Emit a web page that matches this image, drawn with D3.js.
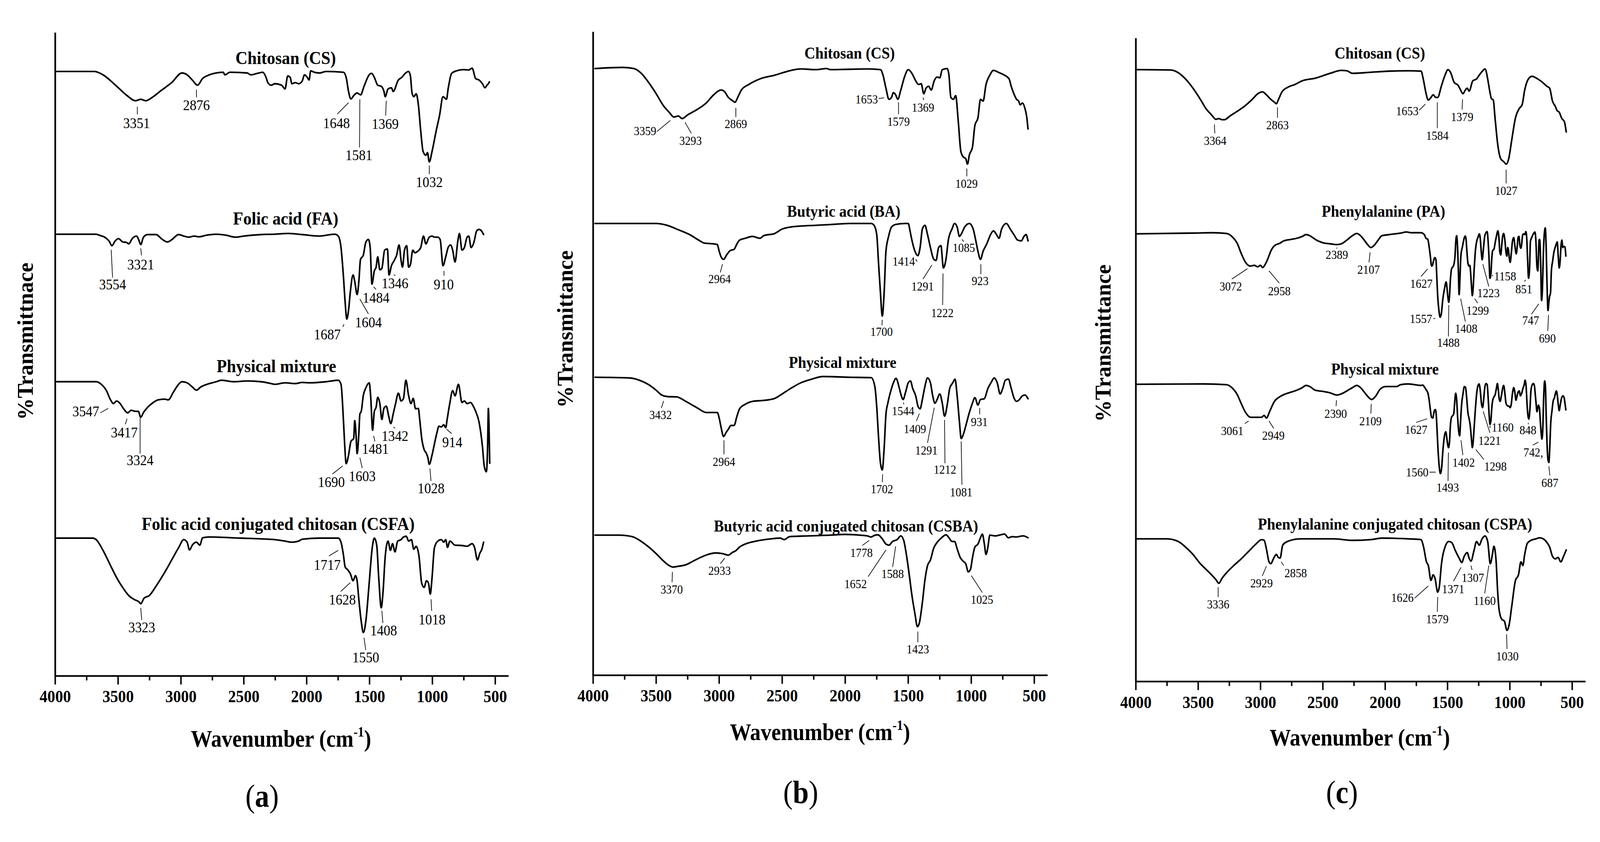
<!DOCTYPE html>
<html><head><meta charset="utf-8">
<script src="https://cdn.jsdelivr.net/npm/d3@7"></script>
<style>html,body{margin:0;padding:0;width:100%;height:100%;overflow:hidden;background:#fff}svg{display:block;width:100vw;height:100vh}</style>
</head><body>
<svg id="chart" viewBox="0 0 4316 2156" preserveAspectRatio="xMidYMid meet"></svg>
<script>
// ---------- tick values ----------
const majorTicks = [4000,3500,3000,2500,2000,1500,1000,500];
const minorTicks = [3750,3250,2750,2250,1750,1250,750];
const panelLetters = ["a","b","c"];
const yLabels = ["%Transmittnace","%Transmittance","%Transmittance"];

// ---------- panel (a) ----------
const aTitles = [["Chitosan (CS)",2167,166.8],["Folic acid (FA)",2167,123.5],["Physical mixture",2241,83.6],["Folic acid conjugated chitosan (CSFA)",2227,41.1]];
const aCS = [[3989,163.1],[3689,163.1],[3620,162.2],[3511,159.1],[3429,156.6],[3361,155.2],[3320,155.6],[3279,155.2],[3238,155.9],[3156,158.0],[3074,160.1],[2992,162.7],[2951,162.2],[2910,160.8],[2869,159.4],[2828,161.2],[2774,162.2],[2664,162.9],[2651,162.2],[2610,162.9],[2473,162.7],[2446,162.2],[2391,162.6],[2350,162.9],[2323,161.5],[2309,160.1],[2282,159.4],[2254,159.8],[2200,159.4],[2172,158.4],[2151,161.9],[2131,161.5],[2118,159.8],[2090,160.1],[2063,159.8],[2036,160.5],[2017,162.2],[1995,161.5],[1981,160.8],[1968,163.3],[1940,162.9],[1899,162.7],[1845,163.1],[1708,162.9],[1686,161.5],[1667,157.7],[1648,155.7],[1626,156.6],[1599,157.3],[1571,156.8],[1544,159.1],[1503,162.2],[1484,162.6],[1462,161.5],[1435,159.4],[1407,159.1],[1386,157.8],[1375,156.3],[1353,158.4],[1326,158.7],[1312,157.7],[1271,160.8],[1244,161.5],[1216,162.6],[1189,163.1],[1175,161.9],[1162,157.3],[1148,156.3],[1129,157.1],[1112,154.2],[1093,147.1],[1074,141.5],[1052,140.5],[1039,141.2],[1025,138.7],[1003,141.5],[970,147.1],[943,151.3],[916,156.3],[888,155.6],[875,158.4],[847,162.6],[806,163.3],[752,163.6],[711,163.5],[684,164.0],[656,161.2],[629,160.8],[602,159.8],[582,158.7],[566,159.4],[555,159.8],[547,160.3]];
const aFA = [[3989,119.2],[3675,119.2],[3648,118.9],[3607,118.4],[3571,117.3],[3549,116.1],[3525,117.3],[3497,118.0],[3462,117.1],[3435,117.0],[3415,116.6],[3388,118.0],[3353,118.7],[3336,117.7],[3320,116.4],[3298,118.4],[3265,119.1],[3197,119.1],[3156,118.0],[3107,117.1],[3074,117.7],[3019,119.1],[2978,118.7],[2937,118.4],[2896,118.7],[2855,118.5],[2801,118.9],[2719,119.2],[2637,118.9],[2569,118.4],[2500,118.7],[2364,119.1],[2254,119.2],[2145,119.4],[2036,119.1],[1899,118.7],[1776,119.2],[1749,118.7],[1727,115.6],[1708,107.9],[1694,100.8],[1681,96.3],[1667,98.7],[1653,103.6],[1631,108.2],[1618,106.5],[1599,102.9],[1585,106.5],[1572,112.4],[1550,113.5],[1530,117.0],[1509,117.8],[1495,115.6],[1481,105.7],[1462,109.3],[1448,110.3],[1435,113.1],[1418,109.6],[1402,110.0],[1380,114.9],[1358,115.2],[1345,108.2],[1326,110.7],[1304,112.1],[1285,113.5],[1265,116.3],[1249,112.1],[1238,110.3],[1222,114.9],[1205,116.1],[1189,110.3],[1175,111.0],[1156,114.9],[1140,114.2],[1121,114.5],[1093,115.6],[1071,118.7],[1052,116.6],[1025,118.4],[1003,118.7],[984,118.4],[957,118.4],[938,117.7],[916,110.7],[894,113.1],[875,115.6],[856,116.3],[839,114.9],[820,111.7],[798,117.3],[785,119.4],[765,114.9],[746,115.6],[724,118.4],[711,118.7],[692,115.6],[670,117.0],[648,120.1],[629,120.5],[610,120.1],[593,119.1]];
const aPM = [[3989,79.4],[3675,79.4],[3634,78.7],[3593,77.0],[3560,74.5],[3538,73.5],[3511,74.2],[3484,73.5],[3456,72.1],[3424,71.0],[3396,71.7],[3361,71.4],[3339,71.4],[3320,69.8],[3298,71.1],[3265,72.5],[3224,73.7],[3183,74.5],[3129,74.7],[3101,74.5],[3060,76.6],[3019,78.7],[2992,79.4],[2951,79.1],[2910,78.0],[2877,77.1],[2842,78.0],[2801,78.6],[2719,79.4],[2678,79.8],[2582,79.4],[2473,79.6],[2364,79.4],[2282,78.9],[2254,78.7],[2172,79.1],[2090,78.9],[2036,79.2],[1981,79.1],[1845,79.4],[1749,79.8],[1727,78.7],[1708,69.2],[1697,61.9],[1686,57.3],[1667,59.6],[1648,63.3],[1626,64.1],[1618,68.9],[1607,64.8],[1599,60.0],[1585,65.5],[1577,70.7],[1566,71.4],[1550,75.6],[1530,77.7],[1503,79.1],[1490,74.9],[1476,66.3],[1462,71.4],[1448,72.5],[1435,75.2],[1418,73.5],[1402,69.2],[1386,72.2],[1367,72.8],[1347,70.0],[1331,68.1],[1312,70.7],[1293,73.5],[1271,76.3],[1249,74.2],[1230,74.9],[1211,79.8],[1189,75.6],[1170,73.5],[1153,74.9],[1134,72.1],[1112,72.2],[1101,69.2],[1085,64.1],[1066,61.1],[1047,60.0],[1036,58.9],[1025,57.1],[1003,59.6],[984,62.6],[965,65.5],[948,67.4],[929,67.2],[910,67.8],[894,67.0],[883,69.2],[861,73.7],[839,77.0],[820,75.6],[793,78.7],[765,73.8],[746,74.2],[724,73.5],[697,73.8],[675,72.8],[656,71.4],[629,68.5],[602,61.9],[588,56.7],[571,55.1],[561,61.9],[555,72.2],[550,67.8],[544,57.4]];
const aCSFA = [[3989,37.2],[3702,37.2],[3675,36.8],[3620,33.9],[3566,30.2],[3511,26.5],[3456,23.5],[3415,21.7],[3369,20.6],[3334,20.0],[3320,19.5],[3293,21.0],[3252,21.7],[3197,24.3],[3129,28.0],[3074,31.3],[3019,34.6],[2978,36.8],[2951,36.1],[2932,34.0],[2910,35.3],[2877,36.1],[2850,35.3],[2828,37.3],[2774,37.5],[2528,37.2],[2364,37.0],[2254,36.8],[2172,36.4],[2118,36.1],[2063,36.4],[2036,36.9],[1899,37.2],[1749,37.2],[1727,36.1],[1708,32.7],[1694,29.4],[1675,28.7],[1653,27.6],[1631,25.7],[1612,27.1],[1599,25.7],[1585,20.6],[1566,14.7],[1549,11.7],[1530,14.7],[1503,25.0],[1481,33.9],[1462,37.2],[1443,35.3],[1427,26.5],[1407,18.4],[1394,22.1],[1375,32.4],[1353,36.4],[1334,33.9],[1317,35.7],[1298,33.5],[1276,36.4],[1249,36.8],[1230,37.5],[1208,37.7],[1189,36.4],[1167,36.8],[1148,34.2],[1129,35.0],[1107,32.4],[1085,25.0],[1066,23.9],[1047,25.7],[1031,25.0],[1017,22.1],[1003,26.5],[984,34.6],[957,36.4],[929,36.8],[910,36.1],[894,36.8],[880,34.7],[861,36.4],[820,35.3],[765,35.2],[724,35.0],[684,35.7],[664,34.6],[642,31.3],[623,33.1],[607,34.2],[593,36.1]];
const aCSLab = [["3351",3353,149.2,3347,153.6,3347,151.5],["2876",2877,154.0,2877,158.2,2877,156.1],["1648",1763,149.2,1667,154.7,1757,151.6],["1581",1585,140.5,1577,155.6,1580,142.6],["1369",1375,148.9,1367,155.2,1372,151.2],["1032",1025,133.2,1025,137.7,1025,135.4]];
const aFALab = [["3554",3544,105.6,3555,115.0,3544,107.5],["3321",3320,111.0,3320,115.4,3314,113.5],["1687",1836,92.1,1703,94.9,1713,94.2],["1604",1509,95.4,1577,101.7,1509,97.7],["1484",1448,102.1,1468,105.0,1448,104.3],["1346",1298,106.0,1309,108.2,1293,108.1],["910",910,105.6,908,109.3,908,108.0]];
const aPMLab = [["3547",3757,71.4,3642,71.0,3579,72.2],["3417",3451,65.7,3429,69.4,3443,67.9],["3324",3325,58.2,3325,69.6,3325,60.0],["1690",1804,52.3,1713,56.7,1795,54.5],["1603",1558,53.9,1577,58.9,1558,56.1],["1481",1454,61.3,1468,64.8,1457,63.3],["1342",1298,64.8,1309,67.2,1298,66.8],["1028",1011,50.6,1020,56.0,1011,52.6],["914",842,63.1,888,66.6,847,65.4]];
const aCSFALab = [["3323",3312,13.1,3320,18.4,3312,15.1],["1717",1836,30.0,1823,32.4,1749,33.9],["1628",1716,20.6,1730,22.8,1653,25.2],["1550",1530,5.0,1544,10.3,1530,7.0],["1408",1388,12.3,1402,17.6,1394,14.3],["1018",1003,15.2,1011,20.7,1006,17.6]];

// ---------- panel (b) ----------
const bTitles = [["Chitosan (CS)",1965,167.9],["Butyric acid (BA)",2012,125.2],["Physical mixture",2021,84.4],["Butyric acid conjugated chitosan (CSBA)",1994,40.3]];
const bCS = [[3985,163.7],[3765,164.0],[3677,163.7],[3618,162.4],[3559,159.9],[3500,156.9],[3441,153.6],[3397,151.9],[3359,150.6],[3324,150.9],[3294,150.2],[3250,151.2],[3177,152.6],[3103,154.4],[3044,156.6],[2985,157.9],[2956,157.4],[2927,155.9],[2897,155.1],[2874,154.6],[2853,155.9],[2824,157.9],[2765,159.4],[2677,160.9],[2559,161.9],[2441,163.1],[2353,163.6],[2235,163.4],[2147,163.7],[2118,163.4],[1971,163.5],[1824,163.6],[1721,163.4],[1700,161.9],[1677,158.4],[1653,155.4],[1633,155.9],[1618,157.2],[1600,156.6],[1583,155.4],[1559,157.9],[1530,161.4],[1500,163.4],[1471,162.4],[1441,160.4],[1418,159.4],[1397,159.6],[1377,156.9],[1359,158.4],[1338,158.9],[1318,157.9],[1294,160.4],[1271,161.4],[1250,161.2],[1230,163.4],[1191,163.7],[1177,161.9],[1162,155.9],[1141,155.4],[1124,156.4],[1103,149.4],[1083,141.4],[1065,139.9],[1044,139.4],[1030,137.9],[1015,140.4],[991,142.4],[971,148.4],[947,150.4],[927,155.4],[906,154.9],[883,159.4],[853,161.9],[824,163.2],[780,162.6],[736,161.9],[700,160.9],[683,158.9],[662,156.9],[641,155.4],[624,154.9],[612,153.9],[594,154.4],[574,152.9],[559,150.4],[550,147.4]];
const bBA = [[3985,121.9],[3500,121.9],[3412,121.4],[3324,120.2],[3235,118.9],[3162,117.4],[3118,116.6],[3044,116.4],[3015,116.2],[3000,114.4],[2985,112.9],[2965,112.2],[2941,113.4],[2912,114.6],[2882,114.9],[2859,116.4],[2838,117.4],[2794,117.9],[2735,118.4],[2677,117.9],[2647,118.6],[2559,119.2],[2500,120.4],[2441,120.9],[2353,121.2],[2235,121.4],[2118,121.6],[1971,121.9],[1794,121.9],[1771,121.4],[1750,118.9],[1736,111.4],[1721,103.4],[1706,96.9],[1691,103.4],[1677,114.4],[1656,118.4],[1633,120.9],[1603,121.6],[1530,121.9],[1500,121.9],[1486,119.9],[1471,117.4],[1447,114.4],[1424,113.2],[1406,115.4],[1388,120.4],[1368,121.4],[1347,118.9],[1324,115.4],[1300,112.4],[1280,111.9],[1259,115.4],[1241,115.9],[1221,109.9],[1200,112.4],[1182,117.4],[1153,120.4],[1132,121.9],[1112,120.9],[1094,118.4],[1074,119.4],[1053,120.9],[1015,121.9],[985,120.4],[965,117.4],[947,114.4],[927,112.2],[906,114.4],[877,116.4],[847,118.9],[824,119.9],[800,118.9],[780,117.9],[759,120.4],[721,121.9],[691,120.4],[662,118.9],[632,117.4],[603,117.2],[582,118.4],[565,118.9],[550,117.2]];
const bPM = [[3985,80.4],[3706,80.2],[3618,79.4],[3559,78.4],[3500,76.9],[3456,75.6],[3412,75.2],[3338,75.1],[3265,73.9],[3177,72.2],[3103,70.9],[3015,70.9],[3000,69.4],[2985,66.9],[2965,64.4],[2947,65.4],[2927,66.4],[2906,67.4],[2882,67.4],[2859,69.9],[2838,71.9],[2794,73.1],[2735,73.9],[2633,74.2],[2559,74.7],[2500,75.9],[2441,77.2],[2353,78.9],[2265,79.9],[2177,80.6],[1971,80.4],[1794,80.3],[1765,77.9],[1750,72.4],[1736,64.4],[1721,57.4],[1706,55.4],[1691,61.4],[1677,70.4],[1662,73.4],[1641,76.4],[1618,78.9],[1597,80.1],[1574,77.9],[1559,75.9],[1541,74.4],[1521,76.4],[1500,78.9],[1482,79.4],[1465,77.4],[1441,75.4],[1421,72.4],[1406,71.9],[1388,74.4],[1368,77.9],[1347,80.2],[1324,78.9],[1306,75.4],[1288,73.4],[1271,74.4],[1250,75.9],[1230,73.4],[1212,69.9],[1191,72.9],[1171,77.4],[1147,78.9],[1129,79.9],[1112,75.4],[1094,68.4],[1080,63.9],[1059,65.4],[1035,68.4],[1015,70.9],[991,73.4],[971,74.9],[947,72.9],[927,74.4],[897,74.6],[868,77.4],[844,78.9],[818,80.2],[794,78.9],[771,75.9],[750,77.4],[730,79.6],[706,79.9],[683,77.4],[662,74.9],[641,73.9],[618,74.4],[594,75.4],[574,75.6],[550,74.6]];
const bCSBA = [[3985,37.8],[3794,37.8],[3691,37.4],[3618,36.1],[3559,34.6],[3500,32.8],[3441,30.8],[3397,29.6],[3368,29.2],[3324,29.4],[3265,29.8],[3206,30.8],[3147,31.8],[3088,32.6],[3030,33.0],[2971,32.8],[2927,32.4],[2897,33.1],[2868,33.6],[2838,34.6],[2794,35.4],[2706,36.2],[2588,36.8],[2515,37.0],[2485,36.6],[2441,37.4],[2294,37.6],[2118,37.8],[2000,38.0],[1883,37.8],[1824,37.6],[1794,37.3],[1771,37.7],[1741,37.9],[1706,36.8],[1677,35.4],[1653,35.1],[1624,36.1],[1588,36.6],[1559,37.6],[1536,36.4],[1515,32.6],[1494,27.6],[1471,21.6],[1447,16.6],[1427,13.1],[1412,14.1],[1388,19.6],[1368,25.6],[1347,29.6],[1324,31.1],[1300,34.1],[1265,36.1],[1236,37.1],[1200,37.9],[1177,37.1],[1153,36.1],[1132,36.1],[1112,34.1],[1088,31.8],[1065,30.8],[1044,30.1],[1024,27.9],[1006,28.6],[991,31.6],[971,34.6],[947,35.4],[927,37.1],[912,38.1],[897,35.6],[883,32.6],[868,34.6],[853,37.8],[809,37.6],[765,37.9],[736,38.1],[706,37.1],[677,37.4],[647,37.3],[588,37.6],[550,37.1]];
const bCSLab = [["3359",3588,146.9,3494,146.7,3388,149.7],["3293",3227,144.2,3271,149.2,3221,146.2],["2869",2868,148.7,2868,153.1,2868,150.6],["1653",1830,155.4,1735,155.6,1691,155.8],["1579",1577,149.4,1577,154.6,1577,151.4],["1369",1383,153.2,1383,155.9,1377,155.2],["1029",1038,132.6,1035,136.7,1035,134.6]];
const bBALab = [["2964",2997,106.9,2974,110.9,2991,108.7],["1700",1712,92.7,1706,95.9,1709,94.4],["1414",1536,111.7,1441,112.3,1430,111.6],["1291",1386,104.9,1312,110.7,1383,106.9],["1222",1230,97.7,1224,108.4,1227,99.9],["1085",1059,115.3,1074,117.6,1059,117.0],["923",930,106.4,924,110.9,924,108.2]];
const bPMLab = [["3432",3465,70.2,3441,74.0,3459,72.1],["2964",2962,57.6,2962,63.4,2962,59.6],["1702",1709,50.2,1703,54.2,1706,52.1],["1544",1541,71.3,1538,73.6,1535,73.1],["1409",1447,66.5,1412,70.6,1435,68.6],["1291",1356,60.7,1294,72.2,1347,62.7],["1212",1209,55.5,1212,68.9,1209,57.2],["1081",1080,49.4,1080,63.1,1074,51.4],["931",936,68.4,933,72.1,933,70.4]];
const bCSBALab = [["3370",3377,23.1,3371,27.9,3374,25.1],["2933",2997,28.2,2956,31.6,2991,30.1],["1778",1871,33.1,1809,36.4,1865,35.0],["1652",1918,24.6,1677,33.8,1818,26.6],["1588",1624,27.4,1600,34.8,1624,29.2],["1423",1424,7.0,1424,11.8,1424,8.9],["1025",915,20.4,1000,26.9,912,22.3]];

// ---------- panel (c) ----------
const cTitles = [["Chitosan (CS)",2043,169.6],["Phenylalanine (PA)",2014,126.9],["Physical mixture",2002,84.3],["Phenylalanine conjugated chitosan (CSPA)",1921,42.5]];
const cCS = [[3994,165.1],[3720,165.0],[3661,164.3],[3602,162.6],[3542,160.1],[3483,157.1],[3438,154.6],[3393,152.9],[3358,151.7],[3334,151.9],[3310,151.6],[3289,151.6],[3245,152.6],[3185,153.9],[3126,155.3],[3066,157.1],[3022,158.6],[2983,159.1],[2953,158.3],[2918,157.1],[2888,156.3],[2873,155.9],[2858,156.9],[2828,159.1],[2784,160.3],[2724,161.1],[2665,162.1],[2561,162.8],[2442,164.1],[2353,164.9],[2308,164.8],[2263,164.1],[2115,164.4],[1966,164.7],[1817,164.8],[1713,164.7],[1692,162.1],[1675,159.1],[1654,156.9],[1633,157.6],[1615,158.3],[1594,157.6],[1579,157.6],[1550,160.6],[1520,163.6],[1496,165.1],[1475,164.3],[1446,161.6],[1416,160.9],[1395,159.6],[1377,158.6],[1357,159.6],[1342,160.1],[1327,159.3],[1297,162.1],[1267,162.6],[1246,163.6],[1223,164.6],[1199,165.3],[1178,162.6],[1163,159.6],[1148,157.3],[1133,156.9],[1119,152.1],[1098,145.1],[1074,141.1],[1050,140.3],[1029,139.6],[1009,141.1],[985,146.1],[955,152.1],[925,154.6],[902,155.6],[881,159.6],[851,162.6],[821,163.3],[792,162.9],[747,161.9],[702,160.6],[681,160.1],[658,156.6],[634,155.1],[622,154.1],[604,153.6],[583,151.9],[563,151.1],[548,148.3]];
const cPA = [[3994,120.8],[3542,121.0],[3393,121.1],[3274,120.9],[3230,120.1],[3185,118.1],[3156,115.6],[3120,113.1],[3081,112.1],[3051,112.3],[3022,111.9],[3001,112.3],[2983,111.7],[2962,112.6],[2941,114.1],[2918,116.1],[2888,117.6],[2843,118.3],[2814,118.9],[2754,119.3],[2709,119.6],[2665,120.1],[2635,120.6],[2605,120.3],[2561,119.3],[2501,118.4],[2442,118.1],[2388,117.9],[2353,118.1],[2308,119.1],[2263,120.3],[2228,120.9],[2198,120.3],[2168,119.1],[2139,117.8],[2115,117.1],[2091,117.6],[2061,118.9],[2026,120.3],[1966,120.6],[1862,121.1],[1832,121.3],[1788,121.1],[1712,121.1],[1693,120.8],[1683,120.4],[1673,119.6],[1658,119.3],[1648,117.4],[1638,114.8],[1628,112.1],[1621,112.3],[1613,113.4],[1601,114.4],[1593,113.8],[1586,109.1],[1579,104.1],[1569,100.1],[1559,98.3],[1549,99.4],[1539,102.8],[1524,106.1],[1511,107.8],[1504,106.1],[1496,103.4],[1490,102.3],[1484,104.1],[1477,108.4],[1467,111.4],[1457,111.9],[1450,112.4],[1440,114.8],[1433,119.1],[1427,120.3],[1420,117.4],[1413,110.8],[1407,104.4],[1400,109.1],[1393,114.8],[1380,117.4],[1365,119.8],[1358,120.2],[1351,119.1],[1344,115.8],[1336,112.8],[1328,112.1],[1321,112.3],[1316,110.8],[1309,107.4],[1301,104.1],[1294,106.4],[1286,111.4],[1276,116.4],[1266,118.8],[1256,119.8],[1245,120.8],[1237,119.4],[1229,115.8],[1222,113.8],[1212,116.8],[1202,120.1],[1192,121.1],[1182,121.4],[1175,119.1],[1167,114.1],[1160,108.8],[1152,110.1],[1145,114.1],[1138,116.3],[1128,116.6],[1118,118.4],[1108,120.1],[1096,121.6],[1088,119.8],[1080,115.8],[1073,115.1],[1066,117.4],[1058,120.1],[1050,120.9],[1040,119.1],[1031,115.8],[1024,114.8],[1017,117.1],[1011,116.4],[1004,114.1],[997,113.1],[989,115.4],[979,118.8],[969,119.8],[959,117.4],[949,115.4],[941,117.4],[934,119.8],[927,120.1],[920,117.8],[912,116.9],[905,118.1],[898,120.4],[890,120.8],[880,120.6],[872,121.4],[865,119.8],[858,114.1],[850,108.8],[842,111.4],[835,118.8],[825,119.8],[811,120.8],[799,121.3],[791,118.8],[783,112.1],[776,110.8],[771,114.1],[766,119.1],[761,119.3],[753,113.1],[746,102.8],[739,105.8],[731,115.8],[723,121.1],[716,122.4],[709,117.4],[702,107.4],[694,100.1],[687,102.4],[682,103.8],[674,104.8],[667,110.8],[657,113.4],[647,115.8],[637,117.1],[627,118.1],[620,118.6],[612,114.8],[604,111.6],[597,113.4],[590,117.4],[583,119.1],[575,117.1],[568,117.4],[558,117.3],[551,114.8]];
const cPM = [[3994,80.2],[3453,80.3],[3274,80.1],[3230,79.3],[3185,77.3],[3156,75.1],[3120,72.6],[3081,71.3],[3037,71.3],[2992,71.3],[2971,71.8],[2953,71.1],[2924,73.1],[2888,75.6],[2843,76.9],[2799,77.6],[2754,78.1],[2709,78.6],[2665,79.3],[2635,79.9],[2605,79.6],[2561,78.6],[2501,78.3],[2442,77.9],[2388,77.3],[2353,77.6],[2308,78.4],[2263,79.3],[2228,79.9],[2198,79.3],[2168,78.1],[2139,76.9],[2109,76.1],[2079,76.9],[2040,78.9],[1996,79.6],[1966,79.6],[1907,79.6],[1877,80.1],[1817,80.3],[1712,79.9],[1698,80.0],[1688,79.6],[1673,78.8],[1658,77.9],[1648,76.1],[1638,73.4],[1628,71.3],[1618,71.1],[1608,72.8],[1598,73.4],[1591,72.1],[1584,67.8],[1576,62.4],[1566,57.8],[1557,56.1],[1547,57.8],[1537,62.4],[1524,66.4],[1514,67.4],[1506,65.8],[1498,63.8],[1492,63.1],[1484,64.8],[1477,69.1],[1467,71.4],[1457,71.8],[1450,72.3],[1443,75.1],[1435,77.8],[1427,76.1],[1419,71.4],[1410,67.4],[1403,66.3],[1395,70.4],[1387,74.8],[1377,77.4],[1365,79.6],[1356,79.4],[1346,76.4],[1336,72.4],[1328,71.1],[1318,69.1],[1308,65.4],[1301,63.1],[1294,64.8],[1286,68.8],[1276,73.8],[1266,77.8],[1256,79.8],[1247,80.3],[1237,78.4],[1227,74.8],[1219,73.9],[1212,75.4],[1202,79.1],[1192,80.4],[1182,80.1],[1175,77.1],[1167,72.4],[1159,69.4],[1152,70.4],[1145,73.8],[1138,75.8],[1128,76.8],[1118,77.4],[1108,79.1],[1100,80.4],[1093,78.8],[1086,76.4],[1078,75.6],[1068,77.1],[1058,79.1],[1050,79.9],[1040,77.8],[1031,75.1],[1019,74.4],[1007,74.3],[997,73.9],[989,74.8],[979,77.8],[969,79.3],[959,77.8],[951,75.9],[944,76.8],[934,78.1],[925,78.4],[915,77.1],[905,77.8],[895,79.1],[885,80.1],[878,81.3],[870,79.8],[862,74.8],[855,71.8],[848,70.8],[840,73.1],[830,78.8],[820,80.1],[811,80.4],[803,79.8],[796,77.4],[789,74.8],[783,72.8],[776,73.8],[771,74.6],[763,73.8],[756,70.4],[749,67.1],[743,65.4],[736,68.1],[729,76.4],[721,81.1],[715,79.8],[709,72.1],[702,64.4],[694,59.8],[687,59.1],[680,63.1],[672,69.8],[662,73.1],[652,75.8],[642,76.6],[634,77.8],[627,78.4],[620,77.4],[612,74.8],[604,73.1],[597,74.4],[588,76.1],[575,77.1],[565,76.6],[558,75.1],[551,73.3]];
const cCSPA = [[3994,38.5],[3750,38.5],[3661,37.8],[3602,36.3],[3542,34.3],[3483,31.8],[3438,30.3],[3393,28.8],[3358,27.5],[3334,26.5],[3310,27.8],[3274,29.3],[3215,31.3],[3155,33.1],[3096,35.1],[3037,37.1],[2992,38.3],[2971,38.1],[2953,35.8],[2932,32.3],[2918,31.8],[2894,33.3],[2873,34.3],[2858,33.5],[2843,33.3],[2822,36.8],[2784,37.8],[2680,38.5],[2412,38.5],[2263,38.1],[2115,38.3],[2026,38.7],[1817,38.5],[1713,38.3],[1692,36.3],[1669,32.3],[1654,31.3],[1633,27.3],[1615,28.8],[1600,27.8],[1579,24.1],[1565,25.8],[1550,31.3],[1520,36.3],[1490,37.8],[1466,37.5],[1437,35.3],[1407,33.3],[1386,32.1],[1366,33.8],[1342,34.8],[1327,33.3],[1312,32.5],[1288,35.3],[1267,37.8],[1246,36.8],[1223,38.5],[1199,39.3],[1178,37.8],[1157,31.8],[1140,34.3],[1128,36.5],[1110,32.3],[1098,24.3],[1086,19.3],[1065,16.8],[1044,16.3],[1023,13.8],[1006,15.3],[985,20.3],[955,27.3],[931,28.8],[911,32.3],[896,31.3],[881,34.3],[860,37.3],[830,38.1],[791,38.5],[762,38.8],[732,38.5],[702,37.5],[681,36.3],[658,33.8],[634,33.1],[613,33.5],[592,32.3],[569,33.8],[548,35.5]];
const cCSLab = [["3364",3364,145.9,3370,150.3,3367,147.9],["2863",2864,150.1,2864,154.9,2864,152.1],["1653",1823,153.9,1678,155.8,1728,154.1],["1584",1582,147.3,1582,156.3,1582,149.3],["1379",1383,152.3,1380,157.1,1383,154.3],["1027",1030,132.4,1030,138.1,1030,134.4]];
const cPALab = [["3072",3239,106.6,3230,108.6,3105,111.4],["2958",2849,105.4,2932,110.8,2849,107.5],["2389",2388,115.1,2388,117.1,2388,116.8],["2107",2133,111.1,2121,115.8,2130,113.1],["1627",1710,107.4,1660,111.3,1713,109.3],["1557",1713,97.9,1613,97.9,1598,98.0],["1488",1493,91.4,1490,101.6,1493,93.1],["1408",1351,95.2,1395,103.3,1357,97.1],["1299",1258,100.1,1282,103.3,1258,102.1],["1223",1172,104.8,1217,112.6,1169,106.6],["1158",1038,109.4,1143,109.4,1136,109.7],["851",888,105.9,874,108.4,882,107.9],["747",833,97.4,768,101.9,827,99.1],["690",699,92.6,690,98.9,696,94.6]];
const cPMLab = [["3061",3227,67.6,3126,69.6,3096,70.3],["2949",2897,66.4,2932,70.3,2894,68.3],["2390",2397,72.3,2391,75.9,2394,74.3],["2109",2118,70.3,2112,74.9,2115,72.3],["1627",1752,67.9,1663,70.9,1752,69.9],["1560",1743,56.5,1645,56.5,1594,56.5],["1493",1499,52.3,1493,61.8,1496,54.1],["1402",1371,59.1,1392,65.1,1377,61.1],["1298",1116,58.0,1273,62.6,1208,59.9],["1221",1163,65.0,1214,72.9,1160,67.1],["1160",1058,68.6,1159,69.1,1159,68.4],["848",855,67.8,852,69.8,852,69.4],["742,",812,61.8,771,64.6,816,63.8],["687",679,53.6,687,58.1,679,55.6]];
const cCSPALab = [["3336",3340,20.8,3340,25.5,3340,22.8],["2929",2992,26.5,2953,31.1,2986,28.5],["2858",2718,29.3,2834,32.3,2814,31.3],["1626",1862,22.6,1654,25.8,1764,22.5],["1579",1582,16.8,1579,22.8,1582,18.8],["1371",1455,25.0,1392,30.8,1452,27.1],["1307",1297,28.0,1312,31.3,1303,30.1],["1160",1202,21.8,1169,31.3,1202,23.8],["1030",1020,6.8,1026,12.8,1023,8.8]];

// ---------- drawing ----------
const FONT = "'Liberation Serif','Times New Roman',serif";
const svg = d3.select("#chart");
svg.append("rect").attr("width",4316).attr("height",2156).attr("fill","#fff");

const panels = [
  {x0:149, x1:1336, bottom:1766, series:[aCS,aFA,aPM,aCSFA], labels:[aCSLab,aFALab,aPMLab,aCSFALab], titles:aTitles,
   titleFs:50, annFs:39, annSx:0.93, yLabX:88, yLabY:863, wnX:758, wnY:1957, letX:707, letY:2119},
  {x0:1600, x1:2790, bottom:1764, series:[bCS,bBA,bPM,bCSBA], labels:[bCSLab,bBALab,bPMLab,bCSBALab], titles:bTitles,
   titleFs:45, annFs:33, annSx:0.92, yLabX:1545, yLabY:830, wnX:2212, wnY:1939, letX:2160, letY:2109},
  {x0:3064, x1:4241, bottom:1781, series:[cCS,cPA,cPM,cCSPA], labels:[cCSLab,cPALab,cPMLab,cCSPALab], titles:cTitles,
   titleFs:45, annFs:33, annSx:0.92, yLabX:2996, yLabY:868, wnX:3668, wnY:1954, letX:3620, letY:2109}
];

function txt(g, x, y, str, fs, weight, sx){
  return g.append("text").attr("transform",`translate(${x},${y}) scale(${sx},1)`)
    .attr("text-anchor","middle").attr("font-family",FONT).attr("font-size",fs)
    .attr("font-weight",weight).attr("fill","#000").text(str);
}

panels.forEach((p, i) => {
  const g = svg.append("g");
  const x = d3.scaleLinear().domain([4000,500]).range([p.x0, p.x1]);
  const y = d3.scaleLinear().domain([0,173.6]).range([p.bottom, p.bottom-1736]);

  g.append("line").attr("x1",x(4000)).attr("x2",x(4000)).attr("y1",y(0)).attr("y2",y(173.6))
    .attr("stroke","#000").attr("stroke-width",4.5);
  g.append("line").attr("x1",x(4000)-2).attr("x2",x(500)+36).attr("y1",y(0)).attr("y2",y(0))
    .attr("stroke","#000").attr("stroke-width",4.5);
  g.selectAll(".maj").data(majorTicks).enter().append("line")
    .attr("x1",d=>x(d)).attr("x2",d=>x(d)).attr("y1",y(0)).attr("y2",y(0)+23)
    .attr("stroke","#000").attr("stroke-width",4);
  g.selectAll(".min").data(minorTicks).enter().append("line")
    .attr("x1",d=>x(d)).attr("x2",d=>x(d)).attr("y1",y(0)).attr("y2",y(0)+12)
    .attr("stroke","#000").attr("stroke-width",4);
  majorTicks.forEach(v => txt(g, x(v), y(0)+71, String(v), 47, "bold", 0.9));

  const line = d3.line().x(d=>x(d[0])).y(d=>y(d[1])).curve(d3.curveMonotoneX);
  p.series.forEach(s => g.append("path").attr("d", line(s)).attr("fill","none")
    .attr("stroke","#000").attr("stroke-width",4.3).attr("stroke-linejoin","round").attr("stroke-linecap","round"));

  p.titles.forEach(t => txt(g, x(t[1]), y(t[2]) + 0.33*p.titleFs, t[0], p.titleFs, "bold", 0.9));

  p.labels.forEach(set => set.forEach(l => {
    txt(g, x(l[1]), y(l[2]) + 0.34*p.annFs, l[0], p.annFs, "normal", p.annSx);
    g.append("line").attr("x1",x(l[3])).attr("y1",y(l[4])).attr("x2",x(l[5])).attr("y2",y(l[6]))
      .attr("stroke","#000").attr("stroke-width",1.8);
  }));

  g.append("text").attr("transform",`translate(${p.yLabX},${p.yLabY}) rotate(-90)`)
    .attr("text-anchor","middle").attr("font-family",FONT).attr("font-size",59).attr("font-weight","bold")
    .text(yLabels[i]);

  const wt = g.append("text").attr("transform",`translate(${p.wnX},${p.wnY}) scale(0.9,1)`)
    .attr("text-anchor","middle").attr("font-family",FONT).attr("font-size",64).attr("font-weight","bold");
  wt.append("tspan").text("Wavenumber (cm");
  wt.append("tspan").attr("font-size",38).attr("dy",-28).text("-1");
  wt.append("tspan").attr("dy",28).text(")");

  const lt = g.append("text").attr("transform",`translate(${p.letX},${p.letY}) scale(0.9,1)`)
    .attr("text-anchor","middle").attr("font-family",FONT).attr("font-size",86);
  lt.append("tspan").attr("font-weight","normal").text("(");
  lt.append("tspan").attr("font-weight","bold").text(panelLetters[i]);
  lt.append("tspan").attr("font-weight","normal").text(")");
});
</script>
</body></html>
